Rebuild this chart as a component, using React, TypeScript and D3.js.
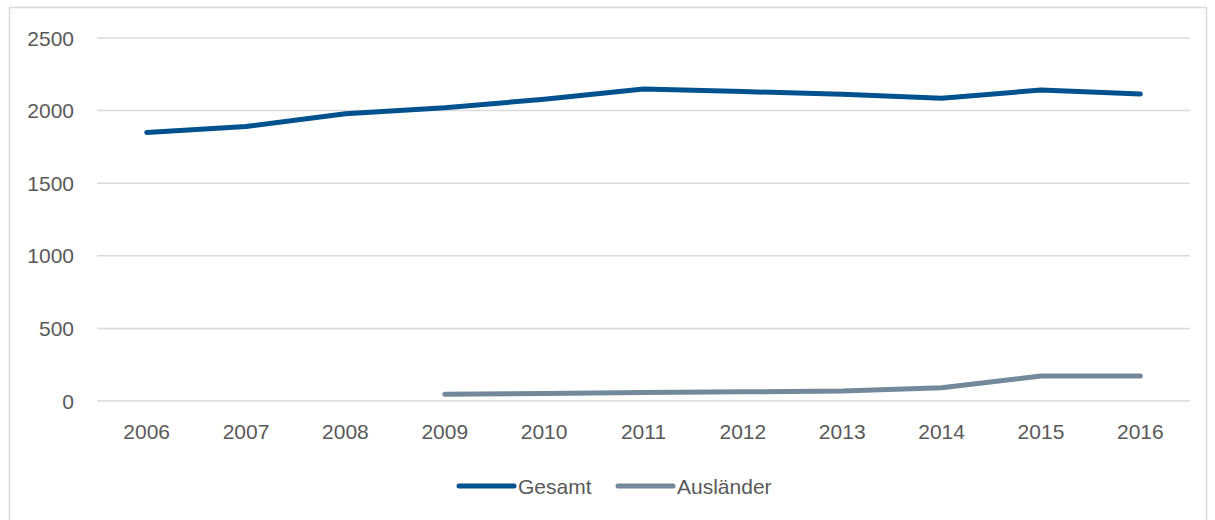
import React, { useEffect, useRef } from "react";
import * as d3 from "d3";

const years = ["2006", "2007", "2008", "2009", "2010", "2011", "2012", "2013", "2014", "2015", "2016"];
const gesamt = [1850, 1890, 1978, 2020, 2078, 2149, 2131, 2113, 2085, 2142, 2115];
const auslaender = [null, null, null, 46, 52, 58, 63, 69, 91, 172, 172];
const yTicks = [0, 500, 1000, 1500, 2000, 2500];
const seriesNames = ["Gesamt", "Ausländer"];
const colors = ["#00528F", "#72899A"];

const App = () => {
  const svgRef = useRef<SVGSVGElement>(null);

  useEffect(() => {
    const width = 1215;
    const height = 520;
    const left = 97;
    const right = 1190;
    const top = 38;
    const bottom = 401;

    const svg = d3.select(svgRef.current);
    svg.selectAll("*").remove();

    // Rahmen
    svg
      .append("rect")
      .attr("x", 9.5)
      .attr("y", 7.5)
      .attr("width", 1197)
      .attr("height", 530)
      .attr("fill", "#fff")
      .attr("stroke", "#d9d9d9")
      .attr("stroke-width", 1.5);

    const x = d3.scalePoint<string>().domain(years).range([left, right]).padding(0.5);
    const y = d3.scaleLinear().domain([0, 2500]).range([bottom, top]);

    const font = "'Liberation Sans', Arial, sans-serif";

    // Gitterlinien
    svg
      .append("g")
      .selectAll("line")
      .data(yTicks)
      .enter()
      .append("line")
      .attr("x1", left)
      .attr("x2", right)
      .attr("y1", (d) => y(d))
      .attr("y2", (d) => y(d))
      .attr("stroke", "#d9d9d9")
      .attr("stroke-width", 1.5);

    // Y-Achse
    svg
      .append("g")
      .selectAll("text")
      .data(yTicks)
      .enter()
      .append("text")
      .attr("x", 74)
      .attr("y", (d) => y(d) + 7.5)
      .attr("text-anchor", "end")
      .attr("fill", "#595959")
      .style("font-family", font)
      .style("font-size", "21px")
      .text((d) => d);

    // X-Achse
    svg
      .append("g")
      .selectAll("text")
      .data(years)
      .enter()
      .append("text")
      .attr("x", (d) => x(d) as number)
      .attr("y", 439)
      .attr("text-anchor", "middle")
      .attr("fill", "#595959")
      .style("font-family", font)
      .style("font-size", "21px")
      .text((d) => d);

    const line = d3
      .line<number | null>()
      .defined((d) => d != null)
      .x((_, i) => x(years[i]) as number)
      .y((d) => y(d as number));

    [gesamt, auslaender].forEach((s, i) => {
      svg
        .append("path")
        .datum(s)
        .attr("d", line)
        .attr("fill", "none")
        .attr("stroke", colors[i])
        .attr("stroke-width", 5)
        .attr("stroke-linecap", "round")
        .attr("stroke-linejoin", "round");
    });

    // Legende
    const legendX = [459, 618];
    seriesNames.forEach((name, i) => {
      const g = svg.append("g").attr("transform", `translate(${legendX[i]},486)`);
      g.append("line")
        .attr("x1", 0)
        .attr("x2", 55)
        .attr("stroke", colors[i])
        .attr("stroke-width", 5)
        .attr("stroke-linecap", "round");
      g.append("text")
        .attr("x", 59)
        .attr("y", 7.5)
        .attr("fill", "#595959")
        .style("font-family", font)
        .style("font-size", "21px")
        .text(name);
    });

    svg.attr("width", width).attr("height", height);
  }, []);

  return (
    <svg
      ref={svgRef}
      width={1215}
      height={520}
      style={{ position: "absolute", left: 0, top: 0, background: "#fff" }}
    ></svg>
  );
};

export default App;
